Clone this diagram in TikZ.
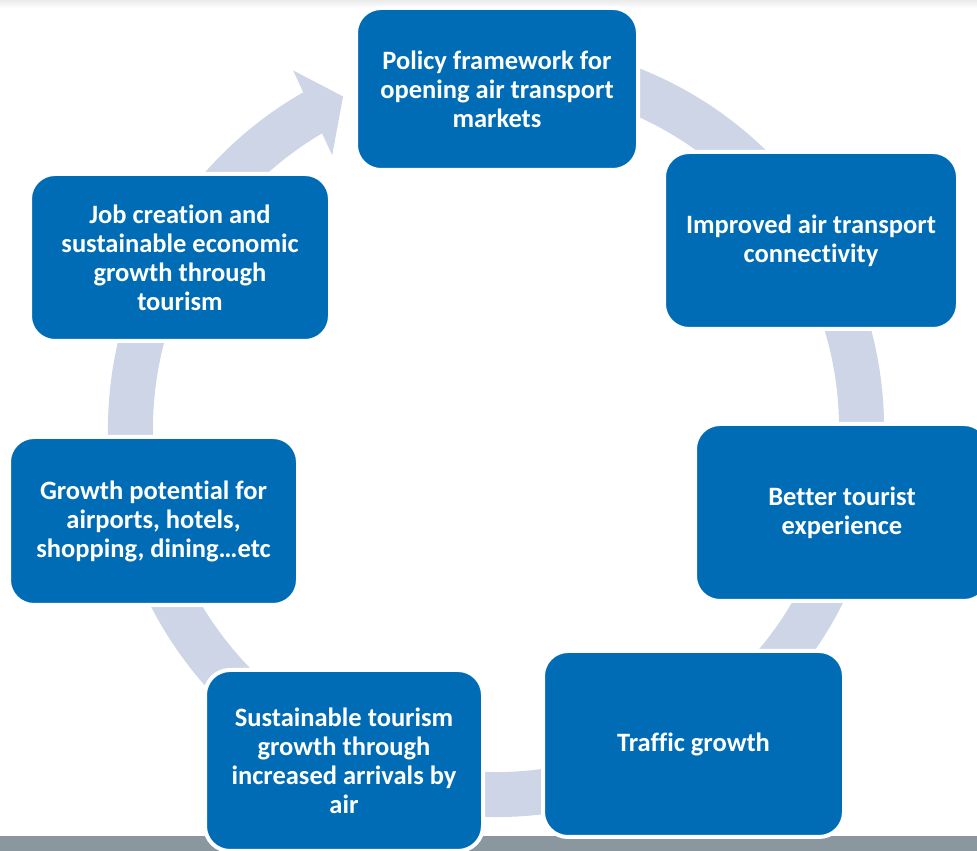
\documentclass[tikz,border=0pt]{standalone}
\usepackage{fontspec}
\setmainfont{Carlito}[Ligatures=NoCommon]
\usetikzlibrary{calc}
\definecolor{boxblue}{RGB}{0,108,182}
\definecolor{ringgray}{RGB}{205,213,230}
\definecolor{bargray}{RGB}{139,151,158}
\begin{document}
\begin{tikzpicture}[x=1pt, y=1pt, box/.style={rectangle, rounded corners=25pt, fill=boxblue, draw=white, line width=4pt, text=white, align=center, inner sep=0pt, font=\bfseries\fontsize{26.5}{29}\selectfont}]
			\useasboundingbox (0,0) rectangle (977,851);
			\fill[bargray] (0,0) rectangle (977,15);
			\shade[top color=black!8, bottom color=white] (0,843) rectangle (977,851);

			\coordinate (c) at (496,422);
			\draw[ringgray, line width=45pt] ($(c)+(80:365.5)$) arc[start angle=80, end angle=-240.5, radius=365.5];
			\fill[ringgray] ($(c)+(119.5:412)$) -- ($(c)+(114.7:366)$) -- ($(c)+(120.9:319)$) -- cycle;

			\node[box, minimum width=282pt, minimum height=162pt] (policy) at (497,762) {Policy framework for\\opening air transport\\markets};
			\node[box, minimum width=294pt, minimum height=177pt] (connect) at (811,610.5) {Improved air transport\\connectivity};
			\node[box, minimum width=294pt, minimum height=177pt] (tourist) at (842,338.5) {Better tourist\\experience};
			\node[box, minimum width=301pt, minimum height=186pt] (traffic) at (693.5,107) {Traffic growth};
			\node[box, minimum width=278pt, minimum height=181pt] (arrivals) at (344,90.5) {Sustainable tourism\\growth through\\increased arrivals by\\air};
			\node[box, minimum width=289pt, minimum height=168pt] (potential) at (153.5,330) {Growth potential for\\airports, hotels,\\shopping, dining…etc};
			\node[box, minimum width=300pt, minimum height=167pt] (jobs) at (180,593.5) {Job creation and\\sustainable economic\\growth through\\tourism};
		\end{tikzpicture}
\end{document}
